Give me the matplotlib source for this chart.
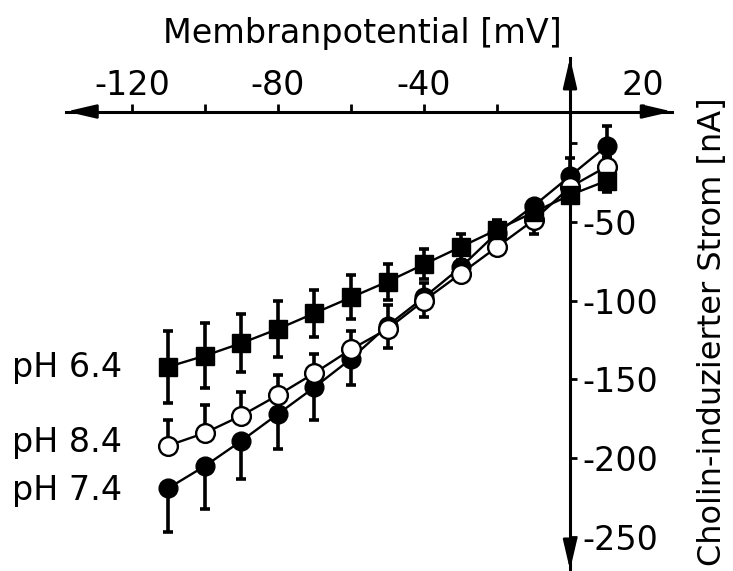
import numpy as np
import matplotlib.pyplot as plt

# membrane potential steps [mV]
volt = [-110, -100, -90, -80, -70, -60, -50, -40, -30, -20, -10, 0, 10]

# pH 6.4 (filled squares), symmetric SEM
ph64 = [-142, -135, -127, -118, -108, -98, -88, -77, -66, -55, -44, -33, -24]
ph64_err = [23, 20.5, 18.5, 17.5, 15, 14, 11.5, 9.5, 8, 6, 6, 5, 7]

# pH 8.4 (open circles), only upper bars visible
ph84 = [-192, -184, -173, -160, -146, -131, -118, -100, -83, -66, -49, -28, -15]
ph84_up = [16, 17.5, 15, 13, 12, 12, 15, 11, 8, 6, 8, 6, 6]
ph84_lo = [0, 0, 0, 0, 0, 0, 0, 0, 0, 0, 9, 0, 0]

# pH 7.4 (filled circles)
ph74 = [-219, -205, -189, -172, -155, -137, -116, -98, -79, -57, -40, -21, -2]
ph74_lo = [28, 27, 24.5, 22.5, 20.5, 16.5, 14, 12.5, 8, 6, 8, 8, 0]
ph74_up = [0, 0, 0, 0, 0, 0, 0, 0, 0, 0, 0, 11.5, 13]

xticks = [-120, -100, -80, -60, -40, -20, 0, 20]
xlabels = ['-120', '', '-80', '', '-40', '', '', '20']
yticks = [0, -50, -100, -150, -200, -250]
ylabels = ['', '-50', '-100', '-150', '-200', '-250']

fig = plt.figure(figsize=(7.33, 5.71), dpi=100)
ax = fig.add_axes([0.0904, 0.0018, 0.8267, 0.8967])
ax.set_xlim(-138, 28)
ax.set_ylim(-271, 54)

eb = dict(fmt='none', ecolor='k', elinewidth=2.6, capsize=3.6, capthick=2.6, zorder=1)
ax.errorbar(volt, ph74, yerr=[ph74_lo, ph74_up], **eb)
ax.errorbar(volt, ph84, yerr=[ph84_lo, ph84_up], **eb)
ax.errorbar(volt, ph64, yerr=ph64_err, **eb)

ax.plot(volt, ph74, '-o', color='k', lw=1.7, ms=13.5, mfc='k', mec='k', zorder=3)
ax.plot(volt, ph84, '-o', color='k', lw=1.7, ms=13.5, mfc='white', mec='k', mew=1.7, zorder=4)
ax.plot(volt, ph64, '-s', color='k', lw=1.7, ms=13, mfc='k', mec='k', zorder=5)

# axes crossing at (0, 20)
for s in ['left', 'bottom']:
    ax.spines[s].set_visible(False)
ax.spines['top'].set_position(('data', 20))
ax.spines['right'].set_position(('data', 0))
ax.spines['top'].set_linewidth(2.2)
ax.spines['right'].set_linewidth(2.2)
ax.xaxis.tick_top()
ax.yaxis.tick_right()
ax.set_xticks(xticks)
ax.set_xticklabels(xlabels)
ax.set_yticks(yticks)
ax.set_yticklabels(ylabels)
ax.tick_params(axis='x', direction='out', length=6, width=2, labelsize=24, pad=1)
ax.tick_params(axis='y', direction='out', length=5, width=2, labelsize=24, pad=4)

# arrow heads at the axis ends
ap = dict(arrowstyle='-|>,head_length=1.5,head_width=0.35', color='k', lw=2, mutation_scale=12,
          shrinkA=0, shrinkB=0)
ax.annotate('', xy=(28, 20), xytext=(22, 20), arrowprops=ap, annotation_clip=False)
ax.annotate('', xy=(-138, 20), xytext=(-132, 20), arrowprops=ap, annotation_clip=False)
ax.annotate('', xy=(0, 54), xytext=(0, 45), arrowprops=ap, annotation_clip=False)
ax.annotate('', xy=(0, -271), xytext=(0, -262), arrowprops=ap, annotation_clip=False)

fig.text(362 / 733, 1 - 33 / 571, 'Membranpotential [mV]', ha='center', va='center', fontsize=24)
fig.text(712 / 733, 1 - 332 / 571, 'Cholin-induzierter Strom [nA]', ha='center', va='center',
         rotation=90, fontsize=23)
fig.text(12 / 733, 1 - 377 / 571, 'pH 6.4', ha='left', va='baseline', fontsize=24)
fig.text(12 / 733, 1 - 452 / 571, 'pH 8.4', ha='left', va='baseline', fontsize=24)
fig.text(12 / 733, 1 - 500 / 571, 'pH 7.4', ha='left', va='baseline', fontsize=24)

fig.savefig('out.png', dpi=100)
